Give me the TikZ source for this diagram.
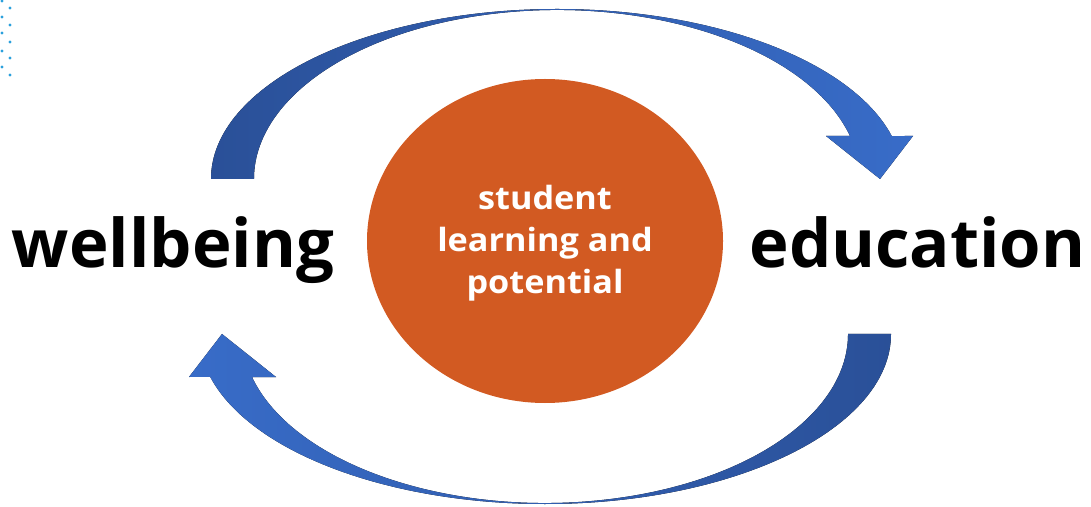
\documentclass[tikz,border=0pt]{standalone}
\usepackage{fontspec}
\setmainfont{Open Sans}
\newfontfamily\corefont{Open Sans}[FakeStretch=1.07]
\usetikzlibrary{shapes.geometric}
\definecolor{coreorange}{RGB}{210,90,34}
\definecolor{arrowdark}{RGB}{42,80,152}
\definecolor{arrowmid}{RGB}{74,112,186}
\definecolor{arrowlight}{RGB}{56,108,200}
\definecolor{dotblue}{RGB}{43,160,220}
\begin{document}
\begin{tikzpicture}[x=1pt,y=1pt,
  toparrow/.style={left color=arrowdark, middle color=arrowmid, right color=arrowlight, draw=none},
  bottomarrow/.style={left color=arrowlight, middle color=arrowmid, right color=arrowdark, draw=none},
  bigword/.style={font=\fontsize{67}{67}\selectfont\bfseries, inner sep=0pt, anchor=base},
  core/.style={ellipse, fill=coreorange, minimum width=356pt, minimum height=324pt, inner sep=0pt},
  corelabel/.style={text=white, align=center, inner sep=0pt, font=\corefont\fontsize{32}{42}\selectfont\bfseries},
  dotmark/.style={fill=dotblue}]
\useasboundingbox (0,0) rectangle (1091,506);

% dotted corner pattern
\foreach \px/\py in {2/505,10/498,2/489,10/481,2/473,10/464,2/455,10/448,2/439,10/431}
  \fill[dotmark] (\px,\py) circle[radius=1.6];

% upper curved arrow: wellbeing -> education
\fill[toparrow] (254,327) -- (211,327)
  arc[start angle=180, end angle=14.65, x radius=346, y radius=170]
  -- (913,370) -- (880,327) -- (826,370) -- (850,370)
  arc[start angle=14.74, end angle=180, x radius=303, y radius=169] -- cycle;

% lower curved arrow: education -> wellbeing
\fill[bottomarrow] (848,172) -- (891,172)
  arc[start angle=360, end angle=194.65, x radius=346, y radius=170]
  -- (189,129) -- (222,172) -- (276,129) -- (252,129)
  arc[start angle=194.74, end angle=360, x radius=303, y radius=169] -- cycle;

% central ellipse
\node[core] (core) at (545,265) {};
\node[corelabel] (corelabeltext) at (545,262.5) {student\\learning and\\potential};

% side words
\node[bigword] (wellbeing) at (173,238) {wellbeing};
\node[bigword] (education) at (917.5,238) {education};
\end{tikzpicture}
\end{document}
